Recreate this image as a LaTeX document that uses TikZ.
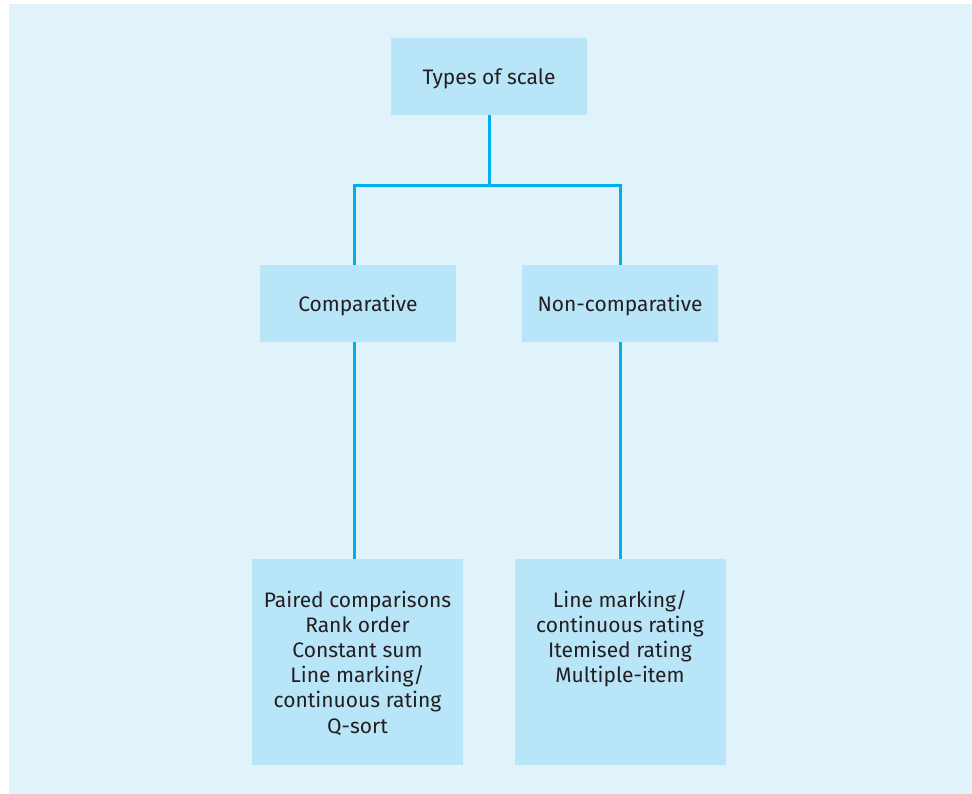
\documentclass[tikz,border=0pt]{standalone}
\usepackage{fontspec}
\setmainfont{Fira Sans}
\definecolor{paneBg}  {RGB}{224, 243, 251}
\definecolor{boxFill} {RGB}{185, 229, 249}
\definecolor{linkLine}{RGB}{0,   174, 239}
\definecolor{textInk} {RGB}{35,  31,  32}

\newcommand{\itemlist}[1]{\parbox[c][206pt][t]{211pt}{\centering\fontsize{21}{25.2}\selectfont\rule{0pt}{48pt}#1}}

\tikzset{
  scalebox/.style={fill=boxFill, text=textInk, inner sep=0pt, text height=20pt, text depth=3pt,
    minimum width=196pt, minimum height=77pt, font=\fontsize{21}{25.2}\selectfont},
  listbox/.style={fill=boxFill, text=textInk, inner sep=0pt},
  link/.style={draw=linkLine, line width=3pt}
}

\begin{document}
\begin{tikzpicture}[x=1pt, y=-1pt]
  \useasboundingbox (0,0) rectangle (972,794);
  \fill[paneBg] (9,4) rectangle (972,794);

  \node[scalebox] (types)   at (489, 76.5)  {Types of scale};
  \node[scalebox] (comp)    at (358, 303.5) {Comparative};
  \node[scalebox] (noncomp) at (620, 303.5) {Non-comparative};

  \node[listbox] (complist) at (357.5, 662) {\itemlist{Paired comparisons\\Rank order\\Constant sum\\Line marking/\\continuous rating\\Q-sort}};
  \node[listbox] (noncomplist) at (620, 662) {\itemlist{Line marking/\\continuous rating\\Itemised rating\\Multiple-item}};

  \coordinate (split) at (489, 186);

  \draw[link] (types.south) -- (split);
  \draw[link] ([xshift=-4pt]comp.north) |- (split) -| (noncomp.north);
  \draw[link] ([xshift=-4pt]comp.south) -- ([xshift=-3.5pt]complist.north);
  \draw[link] (noncomp.south) -- (noncomplist.north);
\end{tikzpicture}
\end{document}
